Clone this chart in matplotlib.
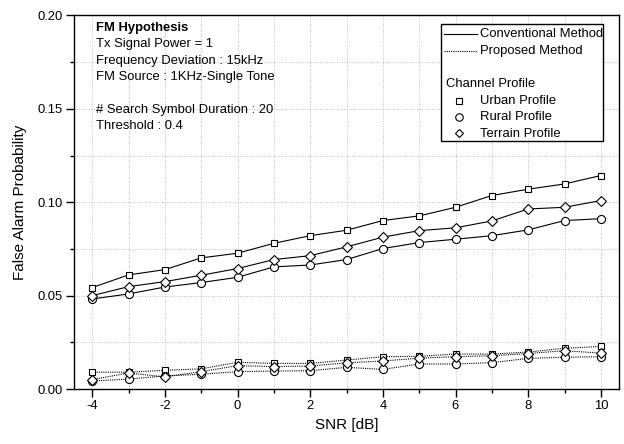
import numpy as np
import matplotlib
matplotlib.use('Agg')
import matplotlib.pyplot as plt
from matplotlib.ticker import MultipleLocator, FormatStrFormatter

plt.rcParams['font.family'] = ['Liberation Sans', 'DejaVu Sans']
plt.rcParams['axes.unicode_minus'] = False

# SNR en dB
snr = [-4, -3, -2, -1, 0, 1, 2, 3, 4, 5, 6, 7, 8, 9, 10]

# Conventional method
conv_urban = [0.0543, 0.0611, 0.0639, 0.0702, 0.0727, 0.0780, 0.0821, 0.0850,
              0.0902, 0.0927, 0.0973, 0.1036, 0.1070, 0.1098, 0.1143]
conv_rural = [0.0482, 0.0509, 0.0546, 0.0570, 0.0598, 0.0654, 0.0664, 0.0693,
              0.0752, 0.0784, 0.0802, 0.0821, 0.0852, 0.0902, 0.0912]
conv_terrain = [0.0500, 0.0548, 0.0575, 0.0609, 0.0645, 0.0693, 0.0714, 0.0761,
                0.0813, 0.0848, 0.0863, 0.0900, 0.0964, 0.0973, 0.1009]

# Proposed method
prop_urban = [0.0090, 0.0090, 0.0100, 0.0108, 0.0143, 0.0137, 0.0137, 0.0155,
              0.0173, 0.0175, 0.0187, 0.0187, 0.0198, 0.0218, 0.0228]
prop_rural = [0.0043, 0.0053, 0.0070, 0.0079, 0.0093, 0.0096, 0.0098, 0.0116,
              0.0105, 0.0134, 0.0134, 0.0141, 0.0164, 0.0170, 0.0173]
prop_terrain = [0.0050, 0.0086, 0.0065, 0.0093, 0.0125, 0.0120, 0.0123, 0.0140,
                0.0150, 0.0165, 0.0173, 0.0178, 0.0190, 0.0205, 0.0192]

notas = ['Tx Signal Power = 1', 'Frequency Deviation : 15kHz',
         'FM Source : 1KHz-Single Tone', '',
         '# Search Symbol Duration : 20', 'Threshold : 0.4']

fs = 9.4
fig = plt.figure(figsize=(6.24, 4.44), dpi=100)
ax = fig.add_axes([74 / 624, 1 - 389 / 444, 545 / 624, 373.5 / 444])

ms_sq = 5.0
ms_c = 5.8
ms_d = 4.6
mk = dict(markerfacecolor='white', markeredgecolor='black', markeredgewidth=0.8)

# curvas convencionales (linea continua)
ax.plot(snr, conv_urban, '-', color='black', lw=0.8, marker='s', ms=ms_sq, **mk)
ax.plot(snr, conv_rural, '-', color='black', lw=0.8, marker='o', ms=ms_c, **mk)
ax.plot(snr, conv_terrain, '-', color='black', lw=0.8, marker='D', ms=ms_d, **mk)

# curvas propuestas (punteadas)
ls_dot = (0, (1, 1))
ax.plot(snr, prop_urban, linestyle=ls_dot, color='black', lw=0.8, marker='s', ms=ms_sq, **mk)
ax.plot(snr, prop_rural, linestyle=ls_dot, color='black', lw=0.8, marker='o', ms=ms_c, **mk)
ax.plot(snr, prop_terrain, linestyle=ls_dot, color='black', lw=0.8, marker='D', ms=ms_d, **mk)

ax.set_xlim(-4.5, 10.5)
ax.set_ylim(0, 0.20)
ax.xaxis.set_major_locator(MultipleLocator(2))
ax.xaxis.set_minor_locator(MultipleLocator(1))
ax.yaxis.set_major_locator(MultipleLocator(0.05))
ax.yaxis.set_minor_locator(MultipleLocator(0.025))
ax.yaxis.set_major_formatter(FormatStrFormatter('%.2f'))
ax.tick_params(which='major', direction='out', length=5.5, width=1.0, labelsize=fs, pad=2.5)
ax.tick_params(which='minor', direction='out', length=3, width=1.0)
ax.grid(which='both', color='#c0c0c0', linestyle=(0, (1, 1.5)), lw=0.7)
ax.set_axisbelow(True)
for sp in ax.spines.values():
    sp.set_linewidth(1.0)

ax.set_xlabel('SNR [dB]', fontsize=11, labelpad=4)
ax.set_ylabel('False Alarm Probability', fontsize=11, labelpad=8)

# texto de condiciones
def fx(px):
    return (px - 74) / 545

def fy(py):
    return (389 - py) / 373.5

ax.text(fx(96), fy(28), 'FM Hypothesis', fontsize=fs, fontweight='bold',
        va='center', ha='left', transform=ax.transAxes)
for i, t in enumerate(notas):
    ax.text(fx(96), fy(44.5 + i * 16.3), t, fontsize=fs, va='center', ha='left',
            transform=ax.transAxes)

# leyenda dibujada a mano
ax.add_patch(plt.Rectangle((fx(441), fy(141)), fx(603) - fx(441), fy(24) - fy(141),
                           transform=ax.transAxes, facecolor='white',
                           edgecolor='black', lw=1.0, zorder=5))
ax.plot([fx(444), fx(477)], [fy(34.3), fy(34.3)], '-', color='black', lw=0.8,
        transform=ax.transAxes, zorder=6)
ax.text(fx(480), fy(34.3), 'Conventional Method', fontsize=fs, va='center',
        transform=ax.transAxes, zorder=6)
ax.plot([fx(444), fx(477)], [fy(51.3), fy(51.3)], linestyle=ls_dot, color='black',
        lw=0.8, transform=ax.transAxes, zorder=6)
ax.text(fx(480), fy(51.3), 'Proposed Method', fontsize=fs, va='center',
        transform=ax.transAxes, zorder=6)
ax.text(fx(446), fy(84), 'Channel Profile', fontsize=fs, va='center',
        transform=ax.transAxes, zorder=6)
for yy, m, s, lab in [(100.5, 's', 4.6, 'Urban Profile'),
                      (117, 'o', 5.4, 'Rural Profile'),
                      (133.5, 'D', 4.4, 'Terrain Profile')]:
    ax.plot([fx(459)], [fy(yy)], linestyle='none', marker=m, ms=s,
            transform=ax.transAxes, zorder=6, **mk)
    ax.text(fx(480), fy(yy), lab, fontsize=fs, va='center',
            transform=ax.transAxes, zorder=6)

fig.savefig('out.png', dpi=100)
